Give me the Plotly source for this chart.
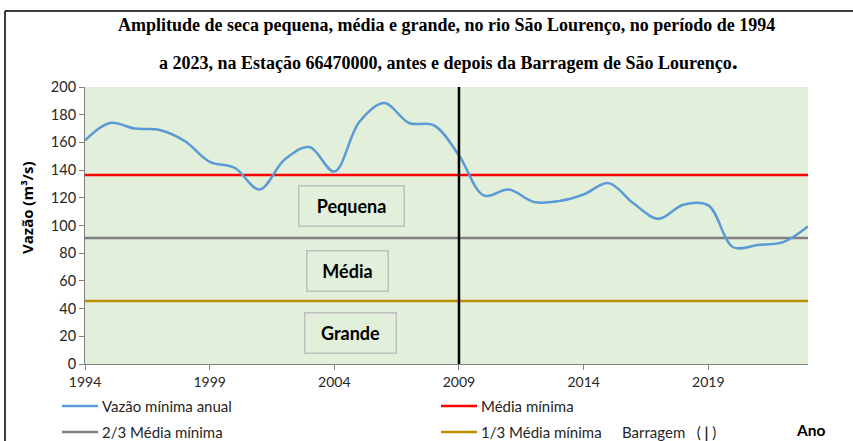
import plotly.graph_objects as go

# Annual minimum flow, Station 66470000 (m³/s)
anos = list(range(1994, 2024))
vazao_minima = [161.4, 174.0, 170.0, 169.0, 161.0, 146.0, 141.7, 126.0, 147.5, 156.6,
                139.0, 174.7, 188.4, 174.0, 172.3, 150.6, 121.7, 126.0, 117.0, 117.6,
                122.4, 130.6, 116.0, 104.8, 115.0, 114.5, 84.3, 86.0, 88.0, 99.3]

media_minima = 136.5
dois_tercos = media_minima * 2 / 3
um_terco = media_minima / 3
ano_barragem = 2009

x_ticks = [1994, 1999, 2004, 2009, 2014, 2019]
y_ticks = list(range(0, 201, 20))

BLUE = "#5B9BD5"
RED = "#FF0000"
GRAY = "#808080"
GOLD = "#BF9000"
BG = "#E2EFDA"
FONT = "Lato, 'Open Sans', Arial, sans-serif"
SERIF = "'Liberation Serif', 'Times New Roman', serif"

# plot-area geometry in pixels
W, H = 853, 441
L, R, T, B = 85, 808, 87, 364


def px(x):
    return (x - L) / (R - L)


def py(y):
    return (B - y) / (B - T)


x_span = [anos[0], anos[-1]]

fig = go.Figure()
fig.add_trace(go.Scatter(x=x_span, y=[media_minima] * 2, mode="lines",
                         line=dict(color=RED, width=2.5), showlegend=False))
fig.add_trace(go.Scatter(x=x_span, y=[dois_tercos] * 2, mode="lines",
                         line=dict(color=GRAY, width=2.5), showlegend=False))
fig.add_trace(go.Scatter(x=x_span, y=[um_terco] * 2, mode="lines",
                         line=dict(color=GOLD, width=2.5), showlegend=False))
fig.add_trace(go.Scatter(x=anos, y=vazao_minima, mode="lines",
                         line=dict(color=BLUE, width=2.5, shape="spline", smoothing=1.0),
                         showlegend=False))
fig.add_trace(go.Scatter(x=[ano_barragem, ano_barragem], y=[0, 200], mode="lines",
                         line=dict(color="black", width=2.5), showlegend=False))

shapes = []
# outer chart frame (left and top edges)
shapes.append(dict(type="line", xref="paper", yref="paper", x0=px(5), x1=px(W + 20),
                   y0=py(11), y1=py(11), line=dict(color="black", width=1.5)))
shapes.append(dict(type="line", xref="paper", yref="paper", x0=px(5), x1=px(5),
                   y0=py(11), y1=py(H + 20), line=dict(color="black", width=1.5)))

annotations = []
# title
annotations.append(dict(xref="paper", yref="paper", x=px(446), y=py(25),
                        text="<b>Amplitude de seca pequena, média e grande, no rio São Lourenço, no período de 1994</b>",
                        showarrow=False, font=dict(family=SERIF, size=18, color="black"),
                        xanchor="center", yanchor="middle"))
annotations.append(dict(xref="paper", yref="paper", x=px(448), y=py(61),
                        text="<b>a 2023, na Estação 66470000, antes e depois da Barragem de São Lourenço</b><span style='font-size:24px'><b>.</b></span>",
                        showarrow=False, font=dict(family=SERIF, size=18, color="black"),
                        xanchor="center", yanchor="middle"))
# y axis title
annotations.append(dict(xref="paper", yref="paper", x=px(27), y=py(207),
                        text="<b>Vazão (m³/s)</b>", textangle=-90, showarrow=False,
                        font=dict(family="'Open Sans', Lato, Arial, sans-serif", size=15, color="black"),
                        xanchor="center", yanchor="middle"))
# x axis title
annotations.append(dict(xref="paper", yref="paper", x=px(810), y=py(430),
                        text="<b>Ano</b>", showarrow=False,
                        font=dict(family=FONT, size=15.5, color="black"),
                        xanchor="center", yanchor="middle"))

# drought class boxes
boxes = [("Pequena", 2004.68, 113.9, 104),
         ("Média", 2004.52, 67.5, 80),
         ("Grande", 2004.65, 22.5, 90)]
for txt, bx, by, bw in boxes:
    annotations.append(dict(x=bx, y=by, xref="x", yref="y", text=f"<b>{txt}</b>",
                            showarrow=False, width=bw, height=39, borderpad=0,
                            bordercolor="#BFBFBF", borderwidth=1.5, bgcolor=BG,
                            font=dict(family=FONT, size=18, color="black"),
                            xanchor="center", yanchor="middle"))

# legend, drawn as line samples with labels
legend_items = [("Vazão mínima anual", BLUE, 62, 406),
                ("Média mínima", RED, 441, 406),
                ("2/3 Média mínima", GRAY, 62, 432),
                ("1/3 Média mínima", GOLD, 441, 432)]
for txt, col, lx, ly in legend_items:
    shapes.append(dict(type="line", xref="paper", yref="paper", x0=px(lx), x1=px(lx + 36),
                       y0=py(ly), y1=py(ly), line=dict(color=col, width=2.5)))
    annotations.append(dict(xref="paper", yref="paper", x=px(lx + 38), y=py(ly),
                            text=txt, showarrow=False, xanchor="left", yanchor="middle",
                            font=dict(family=FONT, size=15, color="#262626")))
annotations.append(dict(xref="paper", yref="paper", x=px(620), y=py(432),
                        text="Barragem   ( <b>|</b> )", showarrow=False,
                        xanchor="left", yanchor="middle",
                        font=dict(family=FONT, size=15, color="#262626")))

fig.update_layout(
    width=W, height=H,
    margin=dict(l=L, r=W - R, t=T, b=H - B, pad=0),
    paper_bgcolor="white", plot_bgcolor=BG,
    shapes=shapes, annotations=annotations,
    showlegend=False,
    xaxis=dict(range=[anos[0], anos[-1]], tickvals=x_ticks, ticktext=[str(t) for t in x_ticks],
               showgrid=False, zeroline=False, showline=True, linecolor=GRAY, linewidth=1,
               ticks="outside", ticklen=5, tickcolor=GRAY,
               tickfont=dict(family=FONT, size=14, color="#262626")),
    yaxis=dict(range=[0, 200], tickvals=y_ticks, showgrid=False, zeroline=False,
               showline=True, linecolor=GRAY, linewidth=1,
               ticks="outside", ticklen=5, tickcolor=GRAY,
               tickfont=dict(family=FONT, size=14.5, color="#262626")),
)

fig.write_html("out.html")
